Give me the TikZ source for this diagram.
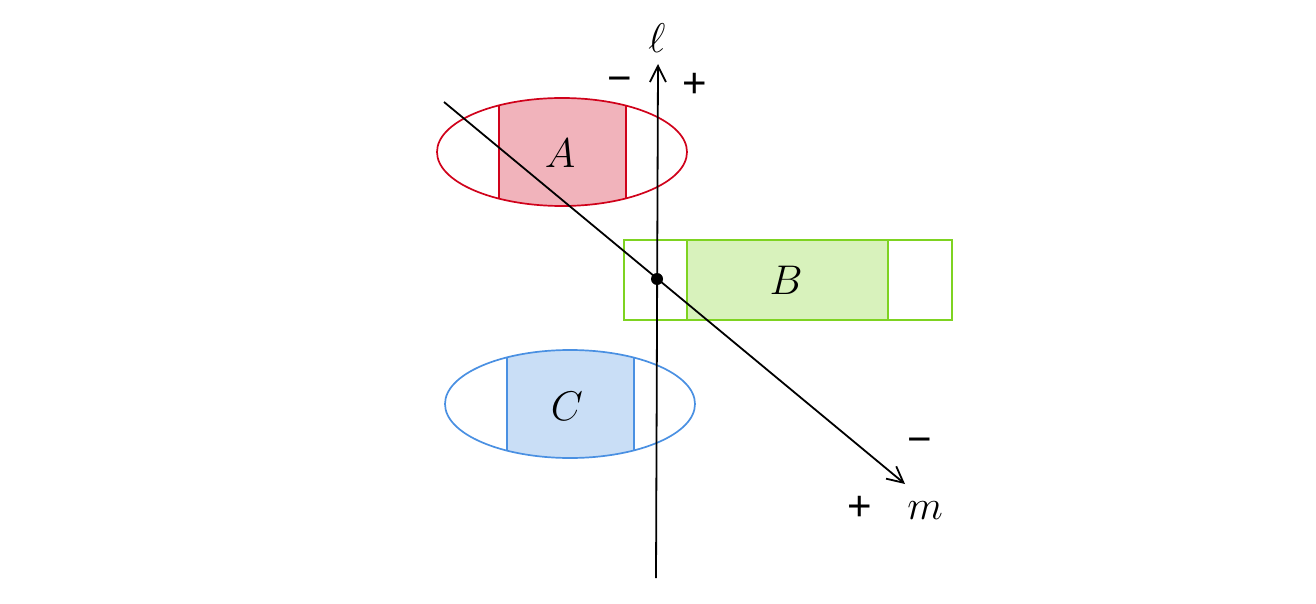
\documentclass[tikz,border=0pt]{standalone}
\usepackage{fontspec}
\newfontfamily\sgnfont{Liberation Sans}
\usetikzlibrary{arrows.meta}
\definecolor{cred}{HTML}{D0021B}
\definecolor{cgreen}{HTML}{7ED321}
\definecolor{cblue}{HTML}{4A90E2}
\begin{document}
\begin{tikzpicture}[x=0.5pt,y=-0.5pt,
  lbl/.style={inner sep=0pt,font=\fontsize{19.5}{22}\selectfont},
  sgn/.style={inner sep=0pt,font=\sgnfont\fontsize{21}{23}\selectfont},
  axis/.style={black,line width=0.9pt,-{Straight Barb[length=8pt,width=8pt,line width=0.9pt]}},
  outl/.style={line width=0.85pt}]
\useasboundingbox (0,0) rectangle (1316,604);
% ellipse A
\begin{scope}
  \clip (562,152) ellipse [x radius=125, y radius=54];
  \fill[cred!30] (499,90) rectangle (626,215);
  \draw[cred,outl] (499,90) -- (499,215) (626,90) -- (626,215);
\end{scope}
\draw[cred,outl] (562,152) ellipse [x radius=125, y radius=54];
\node[lbl] (A) at (560,153) {$A$};
% ellipse C
\begin{scope}
  \clip (570,404) ellipse [x radius=125, y radius=54];
  \fill[cblue!30] (507,340) rectangle (634,470);
  \draw[cblue,outl] (507,340) -- (507,470) (634,340) -- (634,470);
\end{scope}
\draw[cblue,outl] (570,404) ellipse [x radius=125, y radius=54];
\node[lbl] (C) at (567,406) {$C$};
% rectangle B
\draw[cgreen,outl] (624,240) rectangle (952,320);
\draw[cgreen,fill=cgreen!30,line width=1.1pt] (687,240) rectangle (888,320);
\node[lbl] (B) at (786,280) {$B$};
% lines
\coordinate (lbot) at (656,578);
\coordinate (ltop) at (658,64);
\coordinate (mstart) at (444,102);
\coordinate (mend) at (905,484);
\draw[axis] (lbot) -- (ltop);
\draw[axis] (mstart) -- (mend);
\fill (657,279) circle [radius=6];
\node[lbl] (ell) at (657,38) {$\ell$};
\node[sgn] (lminus) at (620,85) {−};
\node[sgn] (lplus) at (695,85) {+};
\node[lbl] (m) at (925,511) {$m$};
\node[sgn] (mminus) at (920,446) {−};
\node[sgn] (mplus) at (860,508) {+};
\end{tikzpicture}
\end{document}
